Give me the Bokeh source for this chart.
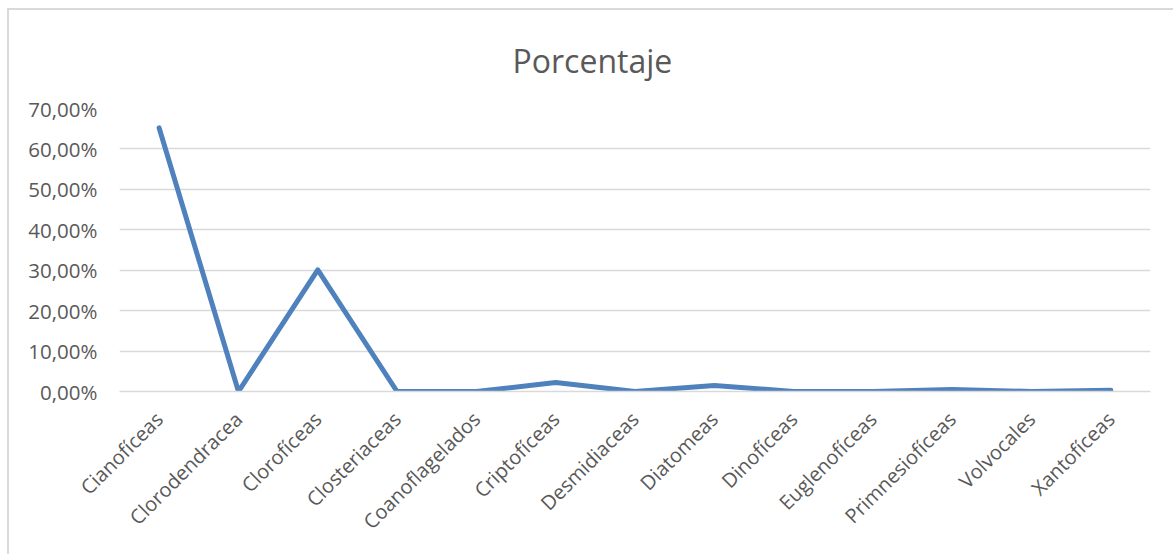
from bokeh.plotting import figure
from bokeh.models import FactorRange, Range1d, CustomJSTickFormatter, Title, FixedTicker
from bokeh.embed import file_html
from bokeh.resources import INLINE

categories = ["Cianofíceas", "Clorodendracea", "Clorofíceas", "Closteriaceas",
              "Coanoflagelados", "Criptofíceas", "Desmidiaceas", "Diatomeas",
              "Dinofíceas", "Euglenofíceas", "Primnesiofíceas", "Volvocales",
              "Xantofíceas"]
porcentaje = [65.2, 0.0, 30.1, 0.0, 0.0, 2.2, 0.0, 1.5, 0.0, 0.0, 0.5, 0.0, 0.3]
y_ticks = [0, 10, 20, 30, 40, 50, 60, 70]

FONT = "Open Sans"
GREY = "#595959"

p = figure(x_range=FactorRange(*categories, range_padding=0),
           y_range=Range1d(0, 70),
           width=1166, height=546,
           output_backend="svg", toolbar_location=None,
           min_border_left=110, min_border_right=25,
           min_border_top=97, min_border_bottom=165)
p.styles = {"margin-left": "7px", "margin-top": "8px",
            "border-left": "2px solid #d9d9d9", "border-top": "2px solid #d9d9d9"}

p.title = Title(text="Porcentaje", align="left", vertical_align="bottom",
                text_font=FONT, text_font_size="32px", text_font_style="normal",
                text_color=GREY, standoff=53, offset=393)

p.line(categories, porcentaje, line_color="#4f81bd", line_width=5,
       line_cap="round", line_join="round")

p.outline_line_color = None
p.xgrid.grid_line_color = None
p.ygrid.grid_line_color = "#d9d9d9"
p.ygrid.grid_line_width = 1.5

p.yaxis.ticker = FixedTicker(ticks=y_ticks)
p.yaxis.formatter = CustomJSTickFormatter(
    code="return tick.toFixed(2).replace('.', ',') + '%';")
p.yaxis.axis_line_color = None
p.yaxis.major_tick_line_color = None
p.yaxis.minor_tick_line_color = None
p.yaxis.major_label_standoff = 16
p.yaxis.major_label_text_font = FONT
p.yaxis.major_label_text_font_size = "20.5px"
p.yaxis.major_label_text_color = GREY

p.xaxis.axis_line_color = "#d9d9d9"
p.xaxis.axis_line_width = 1.5
p.xaxis.major_tick_line_color = None
p.xaxis.minor_tick_line_color = None
p.xaxis.major_label_orientation = 0.785398
p.xaxis.major_label_standoff = 18
p.xaxis.major_label_text_font = FONT
p.xaxis.major_label_text_font_size = "20px"
p.xaxis.major_label_text_color = GREY

p.background_fill_color = "white"
p.border_fill_color = "white"

open("out.html", "w").write(file_html(p, INLINE))
